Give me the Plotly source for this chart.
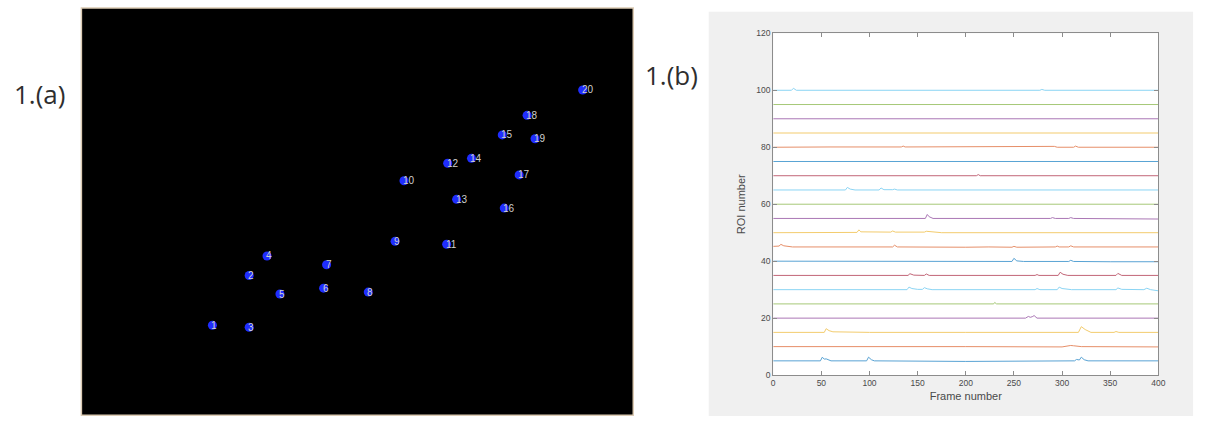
import plotly.graph_objects as go

# ---------------- Panel 1.(a): ROI centroids (image pixel coordinates) ----------------
roi_labels = [str(i) for i in range(1, 21)]
roi_x = [132, 169, 169, 187, 200, 244, 247, 289, 316, 325, 368, 369, 378, 393, 424, 426, 441, 449, 457, 505]
roi_y = [325, 274, 327, 254, 293, 287, 263, 291, 239, 177, 242, 159, 196, 154, 130, 205, 171, 110, 134, 84]
image_width = 556
image_height = 417

# ---------------- Panel 1.(b): ROI traces (key frames and offsets above baseline) ----------------
roi_offset_step = 5
trace_frames = [
    [0, 49, 51, 53, 55, 57, 60, 97, 99, 102, 105, 200, 250, 313, 315, 318, 320, 323, 327, 347, 348, 350, 400],
    [0, 100, 200, 300, 309, 312, 320, 400],
    [0, 53, 55, 58, 62, 100, 200, 317, 320, 324, 330, 354, 356, 359, 400],
    [0, 262, 265, 267, 269, 271, 274, 400],
    [0, 229, 230, 232, 400],
    [0, 139, 141, 144, 150, 155, 157, 160, 165, 178, 180, 183, 272, 274, 277, 295, 297, 300, 310, 356, 358, 362, 385, 388, 392, 400],
    [0, 140, 142, 146, 157, 159, 162, 272, 274, 276, 296, 298, 301, 306, 356, 358, 362, 400],
    [0, 195, 200, 248, 250, 253, 260, 307, 309, 312, 350, 400],
    [0, 6, 8, 11, 20, 124, 126, 129, 200, 218, 220, 224, 248, 250, 253, 293, 295, 297, 307, 309, 312, 400],
    [0, 87, 89, 91, 122, 124, 127, 157, 159, 165, 172, 175, 400],
    [0, 158, 160, 162, 166, 288, 290, 293, 307, 309, 312, 400],
    [0, 200, 400],
    [0, 75, 77, 80, 85, 110, 112, 115, 124, 126, 129, 400],
    [0, 211, 213, 215, 400],
    [0, 200, 202, 400],
    [0, 40, 60, 133, 135, 137, 180, 290, 292, 295, 312, 314, 317, 400],
    [0, 400],
    [0, 400],
    [0, 245, 250, 255, 400],
    [0, 19, 21, 24, 277, 279, 282, 400],
]
trace_values = [
    [0, 0, 1.3, 0.6, 0.7, 0.3, 0, 0, 1.3, 0.4, 0, -0.2, -0.1, 0, 0.5, 0.3, 1.3, 0.4, 0, 0, 0.2, 0, 0],
    [0, 0.1, 0, -0.1, 0.4, 0.3, 0, -0.1],
    [0, 0, 1.3, 0.6, 0.2, 0, 0, 0, 2.0, 1.0, 0, 0, 0.3, 0, 0],
    [0, 0, 0.6, 0.3, 0.5, 0.9, 0, 0],
    [0, 0, 0.5, 0, 0],
    [0, 0, 0.9, 0.4, 0.1, 0.1, 0.7, 0.3, 0, 0, 0.2, 0, 0, 0.4, 0, 0, 0.9, 0.4, 0, 0, 0.6, 0.1, 0, 0.5, 0, -0.4],
    [0, 0, 0.6, 0.1, 0, 0.5, 0, 0, 0.3, 0, 0, 1.1, 0.4, 0, 0, 0.7, 0, 0],
    [0, 0, -0.2, -0.1, 1.0, 0.1, -0.1, -0.1, 0.3, -0.1, -0.2, -0.2],
    [0.2, 0.3, 0.9, 0.4, 0, 0, 0.6, 0, -0.1, 0.1, 0.2, 0, -0.1, 0.2, -0.1, 0, 0.3, 0, 0, 0.4, 0, 0],
    [0, 0.1, 1.0, 0.3, 0.2, 0.6, 0.2, 0.2, 0.5, 0.3, 0.3, 0, 0],
    [0, 0, 1.4, 0.6, 0, 0, 0.3, 0, 0, 0.3, 0, -0.2],
    [0, 0.05, 0],
    [0, 0, 0.9, 0.3, 0, 0, 0.7, 0.1, 0.1, 0.3, 0, 0],
    [0, 0, 0.4, 0, 0],
    [0, 0, 0.1, 0],
    [0, -0.1, 0.1, 0.1, 0.4, 0.1, 0.1, 0.1, 0.3, 0, 0, 0.4, 0, 0],
    [0, 0],
    [0, 0],
    [0, 0, -0.2, 0, 0],
    [0, 0, 0.7, 0, 0, 0.3, 0, 0],
]
matlab_colors = ["#0072BD", "#D95319", "#EDB120", "#7E2F8E", "#77AC30", "#4DBEEE", "#A2142F"]
x_ticks = [0, 50, 100, 150, 200, 250, 300, 350, 400]
y_ticks = [0, 20, 40, 60, 80, 100, 120]

W, H = 1210, 426
fig = go.Figure()

# right panel traces
for k, (fr, vals) in enumerate(zip(trace_frames, trace_values)):
    base = roi_offset_step * (k + 1)
    fig.add_trace(go.Scatter(
        x=fr, y=[base + v for v in vals], mode="lines",
        line=dict(color=matlab_colors[k % len(matlab_colors)], width=1),
        opacity=0.65, xaxis="x", yaxis="y", hoverinfo="skip", showlegend=False,
    ))

# left panel dots
fig.add_trace(go.Scatter(
    x=roi_x, y=roi_y, mode="markers",
    marker=dict(size=9, color="#1f2dff", line=dict(width=0)),
    xaxis="x2", yaxis="y2", hoverinfo="skip", showlegend=False,
))

annotations = []
for lab, xx, yy in zip(roi_labels, roi_x, roi_y):
    annotations.append(dict(
        x=xx, y=yy, xref="x2", yref="y2", text=lab, showarrow=False,
        xanchor="left", yanchor="middle", xshift=-3,
        font=dict(family="Liberation Sans", size=10, color="#d0d0d0"),
    ))

annotations.append(dict(x=10 / W, y=1 - 91 / H, xref="paper", yref="paper", text="1.(a)",
                        showarrow=False, xanchor="left", yanchor="middle",
                        font=dict(family="Open Sans", size=26, color="#2e2e2e")))
annotations.append(dict(x=646 / W, y=1 - 72 / H, xref="paper", yref="paper", text="1.(b)",
                        showarrow=False, xanchor="left", yanchor="middle",
                        font=dict(family="Open Sans", size=26, color="#2e2e2e")))

shapes = [
    # gray figure background of right panel
    dict(type="rect", xref="paper", yref="paper", x0=712 / W, x1=1200 / W, y0=1 - 421 / H, y1=1 - 7 / H,
         fillcolor="#f0f0f0", line=dict(width=0), layer="below"),
    # white axes area
    dict(type="rect", xref="x domain", yref="y domain", x0=0, x1=1, y0=0, y1=1,
         fillcolor="white", line=dict(width=0), layer="below"),
    # black image
    dict(type="rect", xref="x2 domain", yref="y2 domain", x0=0, x1=1, y0=0, y1=1,
         fillcolor="black", line=dict(width=1.5, color="#dccbb4"), layer="below"),
]

tick_font = dict(family="Liberation Sans", size=8.5, color="#4a4a4a")
title_font = dict(family="Liberation Sans", size=11, color="#4a4a4a")

fig.update_layout(
    width=W, height=H,
    margin=dict(l=0, r=0, t=0, b=0),
    paper_bgcolor="white", plot_bgcolor="rgba(0,0,0,0)",
    showlegend=False,
    annotations=annotations, shapes=shapes,
    xaxis=dict(domain=[777 / W, 1165 / W], range=[0, 400], tickvals=x_ticks,
               ticks="inside", ticklen=4, tickcolor="#8c8c8c", mirror="ticks",
               showline=True, linecolor="#8c8c8c", linewidth=1, showgrid=False, zeroline=False,
               tickfont=tick_font, title=dict(text="Frame number", font=title_font, standoff=4),
               anchor="y"),
    yaxis=dict(domain=[1 - 379 / H, 1 - 29 / H], range=[0, 120], tickvals=y_ticks,
               ticks="inside", ticklen=4, tickcolor="#8c8c8c", mirror="ticks",
               showline=True, linecolor="#8c8c8c", linewidth=1, showgrid=False, zeroline=False,
               tickfont=tick_font, title=dict(text="ROI number", font=title_font, standoff=8),
               anchor="x"),
    xaxis2=dict(domain=[80 / W, 636 / W], range=[0, image_width], visible=False, anchor="y2"),
    yaxis2=dict(domain=[1 - 420 / H, 1 - 3 / H], range=[image_height, 0], visible=False, anchor="x2"),
)

fig.write_html("out.html")
